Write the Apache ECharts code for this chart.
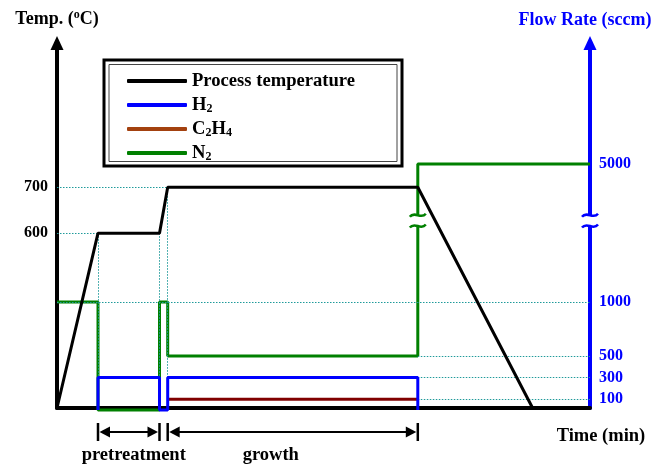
<!DOCTYPE html>
<html>
<head>
<meta charset="utf-8">
<script src="https://cdn.jsdelivr.net/npm/echarts@6/dist/echarts.min.js"></script>
<style>
  html, body { margin: 0; padding: 0; background: #fff; }
  #chart { width: 666px; height: 465px; }
</style>
</head>
<body>
<div id="chart"></div>
<script>
// Process schedule: furnace temperature (left axis) and gas flows (right axis) vs. time
const tempTime  = [0, 10, 25, 27, 88, 116];
const tempValue = [220, 600, 600, 700, 700, 220];

const h2Time = [10, 10, 25, 25, 27, 27, 88, 88];
const h2Flow = [0, 300, 300, 0, 0, 300, 300, 0];

const c2h4Time = [27, 88];
const c2h4Flow = [100, 100];

const n2Time = [0, 10, 10, 25, 25, 27, 27, 88, 88, 130];
const n2Flow = [1000, 1000, 0, 0, 1000, 1000, 500, 500, 5000, 5000];

const tempTicks = [600, 700];
const flowTicks = [100, 300, 500, 1000, 5000];

const stageNames = ['pretreatment', 'growth'];
const stageFrom  = [10, 27];
const stageTo    = [25, 88];

const timeMax = 130;
const flowBreak = { start: 1703, end: 4526, gap: 100 };

const FONT = '"Liberation Serif", "Times New Roman", serif';
const BLUE = '#0000ff';
const GUIDE = '#1f9a9a';

const pairs = (xs, ys) => xs.map((x, i) => [x, ys[i]]);

// dotted guide lines derived from the schedule values
const tMin = tempValue[0];
const tempGuides = [
  [{ coord: [0, tempValue[3]] }, { coord: [tempTime[3], tempValue[3]] }],
  [{ coord: [0, tempValue[1]] }, { coord: [tempTime[1], tempValue[1]] }],
  [{ coord: [tempTime[1], tempValue[1]] }, { coord: [tempTime[1], tMin] }],
  [{ coord: [tempTime[2], tempValue[2]] }, { coord: [tempTime[2], tMin] }],
  [{ coord: [tempTime[3], tempValue[3]] }, { coord: [tempTime[3], tMin] }]
];
const tEnd = c2h4Time[1];
const flowGuides = [
  [{ coord: [0, n2Flow[0]] }, { coord: [timeMax, n2Flow[0]] }],
  [{ coord: [tEnd, n2Flow[6]] }, { coord: [timeMax, n2Flow[6]] }],
  [{ coord: [tEnd, h2Flow[1]] }, { coord: [timeMax, h2Flow[1]] }],
  [{ coord: [tEnd, c2h4Flow[0]] }, { coord: [timeMax, c2h4Flow[0]] }],
  [{ coord: [tEnd, 0] }, { coord: [tEnd, n2Flow[6]] }]
];

const chart = echarts.init(document.getElementById('chart'), null, { renderer: 'canvas' });

const boldText = { fontFamily: FONT, fontWeight: 'bold' };
const guideStyle = { color: GUIDE, width: 1, type: [1.5, 1.5] };

chart.setOption({
  animation: false,
  backgroundColor: '#fff',
  grid: { left: 57, right: 76, top: 43, bottom: 57 },
  xAxis: {
    type: 'value', min: 0, max: timeMax,
    axisLine: { onZero: false, lineStyle: { color: '#000', width: 4 } },
    axisTick: { show: false }, axisLabel: { show: false }, splitLine: { show: false }
  },
  yAxis: [
    {
      type: 'value', position: 'left', min: 220, max: 1013.5,
      axisLine: { show: true, onZero: false, lineStyle: { color: '#000', width: 4 },
                  symbol: ['none', 'triangle'], symbolSize: [13, 14] },
      axisTick: { show: false }, splitLine: { show: false },
      axisLabel: Object.assign({ customValues: tempTicks, color: '#000', fontSize: 16, margin: 9,
                                 formatter: v => String(v) }, boldText),
      name: 'Temp. ({sup|o}C)', nameLocation: 'end', nameGap: 14,
      nameTextStyle: Object.assign({ color: '#000', fontSize: 18, lineHeight: 20,
        rich: { sup: { fontSize: 12, lineHeight: 12, verticalAlign: 'top', fontFamily: FONT, fontWeight: 'bold' } } }, boldText)
    },
    {
      type: 'value', position: 'right', min: 18, max: 6121,
      breaks: [flowBreak],
      breakArea: { show: false, itemStyle: { opacity: 0, borderWidth: 0 } },
      axisLine: { show: true, onZero: false, lineStyle: { color: BLUE, width: 4 },
                  symbol: ['none', 'triangle'], symbolSize: [13, 14] },
      axisTick: { show: false }, splitLine: { show: false },
      axisLabel: Object.assign({ customValues: flowTicks, color: BLUE, fontSize: 16, margin: 9,
                                 formatter: v => String(v) }, boldText),
      name: 'Flow Rate (sccm)', nameLocation: 'end', nameGap: 14,
      nameTextStyle: Object.assign({ color: BLUE, fontSize: 18, padding: [0, 10, 0, 0] }, boldText)
    }
  ],
  legend: {
    orient: 'vertical', left: 122, top: 66, z: 10,
    itemWidth: 60, itemHeight: 4, itemGap: 4, icon: 'roundRect',
    formatter: name => name.replace(/(\d)/g, '{sub|$1}'),
    textStyle: Object.assign({ color: '#000', fontSize: 18.6, lineHeight: 20,
      rich: { sub: { fontSize: 12, lineHeight: 12, verticalAlign: 'bottom', fontFamily: FONT, fontWeight: 'bold' } } }, boldText),
    data: [
      { name: 'Process temperature' },
      { name: 'H2' },
      { name: 'C2H4', itemStyle: { color: '#a3410f' } },
      { name: 'N2' }
    ]
  },
  series: [
    { type: 'line', name: 'guides-temp', yAxisIndex: 0, data: [], z: 1, silent: true,
      markLine: { silent: true, symbol: 'none', label: { show: false }, animation: false,
        lineStyle: guideStyle, emphasis: { disabled: true }, data: tempGuides } },
    { type: 'line', name: 'guides-flow', yAxisIndex: 1, data: [], z: 1, silent: true,
      markLine: { silent: true, symbol: 'none', label: { show: false }, animation: false,
        lineStyle: guideStyle, emphasis: { disabled: true }, data: flowGuides } },
    { type: 'line', name: 'N2', yAxisIndex: 1, data: pairs(n2Time, n2Flow), z: 3, clip: false,
      showSymbol: false, symbol: 'none', color: '#008000', lineStyle: { color: '#008000', width: 3 } },
    { type: 'line', name: 'C2H4', yAxisIndex: 1, data: pairs(c2h4Time, c2h4Flow), z: 4, clip: false,
      showSymbol: false, symbol: 'none', color: '#800000', lineStyle: { color: '#800000', width: 3 } },
    { type: 'line', name: 'H2', yAxisIndex: 1, data: pairs(h2Time, h2Flow), z: 5, clip: false,
      showSymbol: false, symbol: 'none', color: BLUE, lineStyle: { color: BLUE, width: 3 } },
    { type: 'line', name: 'Process temperature', yAxisIndex: 0, data: pairs(tempTime, tempValue), z: 6, clip: false,
      showSymbol: false, symbol: 'none', color: '#000', lineStyle: { color: '#000', width: 3 } }
  ]
});

// overlay: legend frame, axis-break marks, stage arrows and the time label
const px = t => chart.convertToPixel({ xAxisIndex: 0 }, t);
const pyFlow = v => chart.convertToPixel({ yAxisIndex: 1 }, v);

function tilde(cx, y, color) {
  return { type: 'bezierCurve', z: 21, silent: true,
    shape: { x1: cx - 8, y1: y + 1.5, cpx1: cx - 3, cpy1: y - 5, cpx2: cx + 3, cpy2: y + 5, x2: cx + 8, y2: y - 1.5 },
    style: { stroke: color, lineWidth: 2.5, fill: null } };
}
function breakMark(cx, color) {
  const a = pyFlow(flowBreak.start), b = pyFlow(flowBreak.end);
  const top = Math.min(a, b), bot = Math.max(a, b);
  return [
    { type: 'rect', z: 20, silent: true, shape: { x: cx - 4, y: top, width: 8, height: bot - top }, style: { fill: '#fff' } },
    tilde(cx, top, color), tilde(cx, bot, color)
  ];
}

const labelShift = [5, -22];
const arrowY = 432;
const elements = [];
stageNames.forEach((name, i) => {
  const x1 = px(stageFrom[i]), x2 = px(stageTo[i]);
  const st = { stroke: '#000', lineWidth: 2.5 };
  elements.push(
    { type: 'line', shape: { x1: x1, y1: arrowY - 9, x2: x1, y2: arrowY + 9 }, style: st },
    { type: 'line', shape: { x1: x2, y1: arrowY - 9, x2: x2, y2: arrowY + 9 }, style: st },
    { type: 'line', shape: { x1: x1 + 4, y1: arrowY, x2: x2 - 4, y2: arrowY }, style: { stroke: '#000', lineWidth: 2 } },
    { type: 'polygon', shape: { points: [[x1 + 1.5, arrowY], [x1 + 12, arrowY - 5.5], [x1 + 12, arrowY + 5.5]] }, style: { fill: '#000' } },
    { type: 'polygon', shape: { points: [[x2 - 1.5, arrowY], [x2 - 12, arrowY - 5.5], [x2 - 12, arrowY + 5.5]] }, style: { fill: '#000' } },
    { type: 'text', x: (x1 + x2) / 2 + labelShift[i], y: 455,
      style: { text: name, fill: '#000', font: 'bold 18.5px ' + FONT, textAlign: 'center', textVerticalAlign: 'middle' } }
  );
});

elements.push(
  { type: 'text', x: 601, y: 436,
    style: { text: 'Time (min)', fill: '#000', font: 'bold 18.5px ' + FONT, textAlign: 'center', textVerticalAlign: 'middle' } },
  { type: 'rect', z: 8, shape: { x: 104, y: 60, width: 298, height: 106 }, style: { fill: '#fff', stroke: '#000', lineWidth: 3 } },
  { type: 'rect', z: 9, shape: { x: 109, y: 64.5, width: 288, height: 97 }, style: { fill: 'none', stroke: '#444', lineWidth: 1 } }
);
elements.push(...breakMark(px(n2Time[8]), '#008000'));
elements.push(...breakMark(px(timeMax), BLUE));

chart.setOption({ graphic: { elements: elements } });
</script>
</body>
</html>
